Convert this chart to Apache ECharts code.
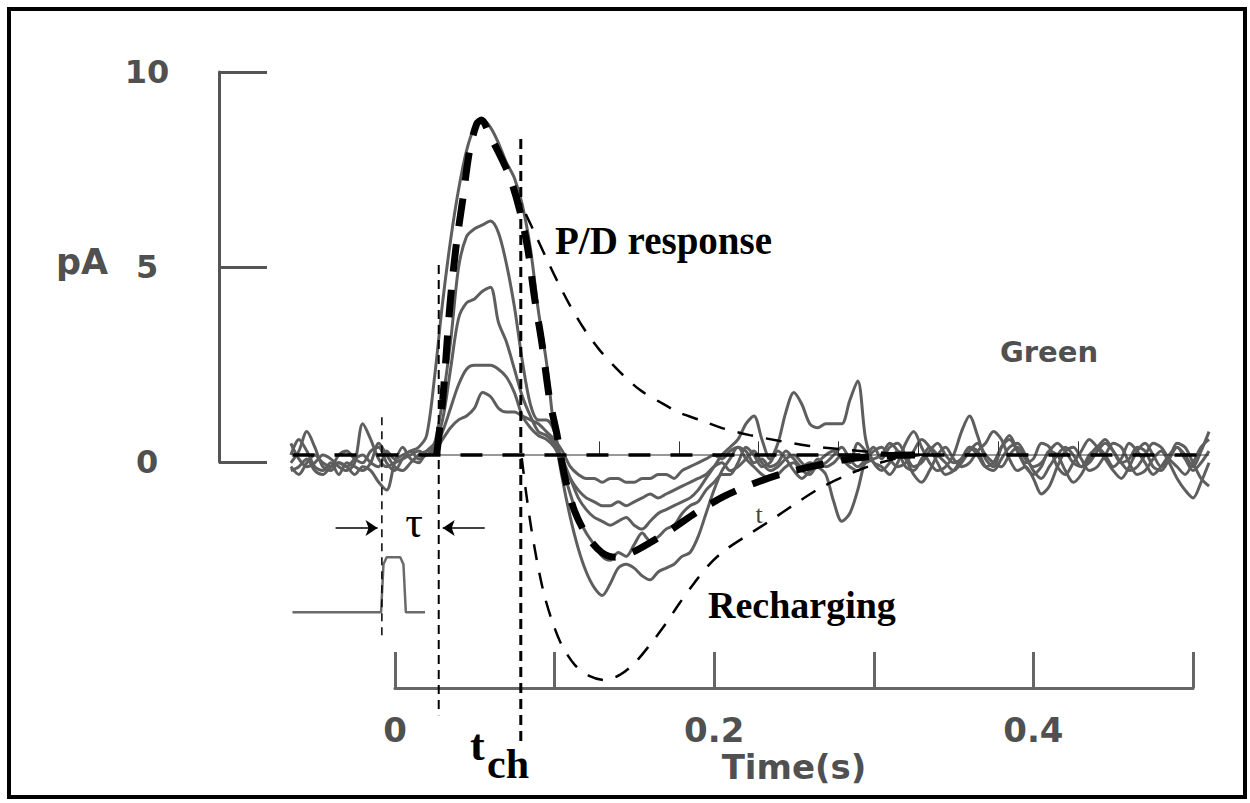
<!DOCTYPE html>
<html><head><meta charset="utf-8">
<script src="https://cdn.jsdelivr.net/npm/echarts@6/dist/echarts.min.js"></script>
<style>html,body{margin:0;padding:0;background:#fff}#c{width:1250px;height:803px}</style>
</head><body><div id="c"></div>
<script>
// ---------- DATA ----------
const timeS = [-0.065,-0.06,-0.055,-0.05,-0.045,-0.04,-0.035,-0.03,-0.025,-0.02,-0.015,-0.01,-0.005,0,0.005,0.01,0.015,0.02,0.025,0.03,0.035,0.04,0.045,0.05,0.055,0.06,0.065,0.07,0.075,0.08,0.085,0.09,0.095,0.1,0.105,0.11,0.115,0.12,0.125,0.13,0.135,0.14,0.145,0.15,0.155,0.16,0.165,0.17,0.175,0.18,0.185,0.19,0.195,0.2,0.205,0.21,0.215,0.22,0.225,0.23,0.235,0.24,0.245,0.25,0.255,0.26,0.265,0.27,0.275,0.28,0.285,0.29,0.295,0.3,0.305,0.31,0.315,0.32,0.325,0.33,0.335,0.34,0.345,0.35,0.355,0.36,0.365,0.37,0.375,0.38,0.385,0.39,0.395,0.4,0.405,0.41,0.415,0.42,0.425,0.43,0.435,0.44,0.445,0.45,0.455,0.46,0.465,0.47,0.475,0.48,0.485,0.49,0.495,0.5,0.505,0.51];

const traceA = [-0.2,0.1,0.6,0.2,-0.3,-0.4,-0.2,-0.3,-0.1,0.0,-0.2,-0.3,0.1,-0.1,0.0,0.1,0.2,0.5,2.0,
  3.9,5.5,6.8,7.8,8.4,8.6,8.4,8.0,7.5,7.1,6.4,5.3,3.7,2.4,0.6,
  -0.6,-1.6,-2.4,-3.0,-3.4,-3.6,-3.3,-2.9,-2.8,-2.9,-3.1,-3.2,-3.0,-2.9,-2.8,-2.6,-2.5,-2.1,-1.5,-0.9,-0.4,-0.1,
  0.2,0.1,-0.2,-0.1,-0.3,-0.2,0.1,-0.1,-0.3,-0.2,-0.3,-0.5,-1.2,-1.7,-1.5,-0.9,-0.1,0.2,
  -0.1,0.2,0.3,0.0,-0.3,-0.2,0.1,0.3,0.0,-0.2,-0.1,0.2,0.1,-0.3,-0.4,-0.1,0.2,0.3,0.0,-0.4,-0.6,-0.3,0.0,0.2,0.0,-0.3,-0.2,0.1,0.3,0.1,-0.2,-0.4,-0.3,0.0,0.3,0.2,-0.1,-0.3,-0.5,-0.2,0.2,0.4];

const traceB = [0.3,-0.1,-0.3,-0.2,0.0,-0.1,-0.3,-0.4,-0.2,0.8,0.4,-0.1,-0.3,-0.2,-0.1,0.0,0.1,0.0,0.3,
  1.4,2.9,4.8,5.6,5.8,5.9,6.0,5.7,4.9,3.8,2.4,1.3,0.9,0.9,0.6,
  -0.3,-1.0,-1.6,-2.0,-2.3,-2.6,-2.7,-2.5,-2.6,-2.3,-2.0,-2.2,-2.1,-1.9,-1.8,-1.5,-1.3,-1.2,-0.9,-0.7,-0.5,-0.5,
  -0.2,0.2,0.0,-0.3,-0.2,0.1,-0.1,-0.4,-0.6,-0.4,-0.1,-0.3,-0.2,0.0,-0.2,0.3,0.1,-0.2,
  -0.3,-0.5,-0.2,0.3,0.6,0.2,-0.2,-0.4,-0.3,0.0,0.6,1.0,0.5,-0.1,-0.3,0.2,0.5,0.1,-0.3,-0.5,-0.3,0.1,0.0,-0.4,-0.7,-0.5,-0.1,0.2,0.0,-0.3,-0.1,0.3,0.1,-0.2,-0.5,-0.3,0.0,0.2,-0.1,-0.4,-0.2,0.1];

const traceC = [-0.4,-0.3,-0.1,-0.4,-0.5,-0.3,-0.2,-0.3,-0.5,-0.3,-0.4,-0.7,-0.9,-0.2,0.2,-0.1,-0.2,0.1,0.3,
  0.9,2.2,3.5,3.9,4.0,4.2,4.3,3.4,2.9,2.2,1.5,1.0,0.6,0.5,0.3,
  -0.1,-0.6,-1.1,-1.4,-1.6,-1.7,-1.8,-1.7,-1.6,-1.8,-1.9,-1.7,-1.5,-1.4,-1.3,-1.2,-1.1,-0.9,-0.6,-0.3,0.0,0.2,
  0.4,0.8,1.0,0.4,-0.1,0.3,1.1,1.6,1.3,0.8,0.7,0.8,0.8,0.8,1.4,1.9,0.4,-0.2,
  -0.4,-0.2,0.1,-0.1,-0.5,-0.7,-0.4,0.0,0.2,-0.1,-0.3,-0.2,0.1,0.3,0.6,0.4,-0.1,-0.4,-0.3,-0.6,-1.0,-0.8,-0.3,0.1,0.2,-0.1,-0.4,-0.3,0.0,0.3,0.2,-0.2,-0.5,-0.4,-0.1,0.1,-0.2,-0.6,-0.9,-1.1,-0.7,-0.2];

const traceD = [0.0,0.4,0.1,-0.3,-0.4,-0.2,-0.5,-0.2,-0.3,-0.4,-0.2,0.3,0.0,-0.3,-0.4,-0.2,0.0,0.1,0.2,
  0.6,1.2,1.8,2.2,2.3,2.3,2.3,2.2,2.0,1.6,1.0,0.7,0.5,0.4,0.2,
  -0.2,-0.6,-0.9,-1.1,-1.2,-1.3,-1.3,-1.2,-1.3,-1.2,-1.1,-1.0,-1.1,-1.0,-0.9,-0.8,-0.7,-0.6,-0.5,-0.3,-0.2,-0.4,
  -0.3,-0.1,0.1,-0.2,-0.4,-0.3,-0.1,0.0,-0.2,-0.4,-0.3,-0.2,0.0,0.2,-0.1,-0.3,-0.1,0.1,
  0.2,-0.1,-0.3,-0.2,0.1,0.4,0.2,-0.2,-0.5,-0.4,-0.1,0.2,0.0,-0.3,-0.2,0.2,0.4,0.1,-0.2,-0.1,0.3,0.2,-0.3,-0.5,-0.2,0.1,0.4,0.2,-0.1,-0.4,-0.6,-0.3,0.1,0.3,0.0,-0.3,-0.1,0.2,0.0,-0.3,0.1,0.6];

const traceE = [-0.3,-0.5,-0.2,0.0,-0.2,-0.3,0.0,0.1,-0.1,-0.2,0.1,0.2,-0.2,-0.4,-0.1,0.1,-0.1,0.0,0.1,
  0.4,0.7,0.9,1.0,1.2,1.6,1.5,1.2,1.1,1.1,1.0,0.9,0.8,0.6,0.4,
  0.1,-0.3,-0.5,-0.6,-0.6,-0.7,-0.6,-0.6,-0.7,-0.7,-0.6,-0.6,-0.5,-0.5,-0.6,-0.4,-0.3,-0.2,-0.1,0.0,-0.1,0.1,
  0.2,-0.1,-0.3,-0.5,-0.6,-0.5,-0.3,-0.2,-0.4,-0.5,-0.2,0.0,0.1,-0.1,-0.3,-0.4,-0.2,-0.1,
  0.0,0.3,0.1,-0.3,-0.4,-0.1,0.2,0.0,-0.2,-0.4,-0.2,0.1,0.3,0.0,-0.2,-0.3,0.0,0.2,-0.1,-0.3,-0.2,0.1,0.3,0.1,-0.2,-0.3,0.0,0.2,0.4,0.1,-0.2,-0.1,0.2,0.1,-0.3,-0.4,-0.1,0.3,0.2,-0.2,-0.6,-0.8];

// thick dashed model curve
const fitT = [0.0263,0.0301,0.0345,0.0382,0.0426,0.0470,0.0514,0.0545,0.0595,0.0658,0.0721,0.0783,0.0833,0.0877,0.0921,0.0971,0.1015,0.1065,0.1128,0.1209,0.1297,0.1385,0.1485,0.1598,0.1736,0.1898,0.2068,0.2237,0.2425,0.2632,0.2851,0.3070,0.3289];
const fitV = [0,1.41,3.79,5.26,6.54,7.82,8.49,8.59,8.2,7.7,7.13,6.28,5.3,4.0,2.9,1.41,0.56,-0.55,-1.45,-2.1,-2.5,-2.62,-2.5,-2.25,-1.9,-1.45,-1.05,-0.75,-0.48,-0.28,-0.1,-0.02,0];
// P/D response
const pdT = [0.0821,0.0877,0.0940,0.1015,0.1096,0.1190,0.1284,0.1410,0.1535,0.1660,0.1786,0.1911,0.2068,0.2224,0.2412,0.2600,0.2788,0.2976,0.3164,0.3352];
const pdV = [6.18,5.69,5.13,4.49,3.85,3.21,2.69,2.13,1.67,1.36,1.08,0.90,0.67,0.51,0.36,0.23,0.15,0.08,0.03,0];
// Recharging
const rcT = [0.0796,0.0821,0.0852,0.0890,0.0934,0.0984,0.1046,0.1128,0.1222,0.1316,0.1410,0.1504,0.1598,0.1692,0.1786,0.1880,0.1974,0.2068,0.2193,0.2350,0.2506,0.2663,0.2820,0.2976,0.3133,0.3289];
const rcV = [-0.08,-0.90,-1.79,-2.69,-3.54,-4.23,-4.87,-5.38,-5.67,-5.77,-5.64,-5.33,-4.87,-4.36,-3.79,-3.26,-2.79,-2.44,-2.10,-1.69,-1.26,-0.85,-0.54,-0.28,-0.10,0];
// stimulus pulse
const stimT = [-0.064,-0.0085,-0.007,-0.005,0.0035,0.0055,0.007,0.019];
const stimV = [-4.03,-4.03,-2.8,-2.62,-2.62,-2.8,-4.03,-4.03];
// baseline extent and its small ticks
const baseT = [-0.064,0.51];
const baseSolidT = [0.027,0.51];
const baseTickT = [0.128,0.178,0.228,0.278,0.328,0.378,0.428];
// marker lines [time, top, bottom]
const onsetLine = [-0.008,0.97,-4.74];
const tauLine = [0.0276,4.87,-6.67];
const tchLine = [0.079,8.1,-7.4];
// tau arrows [fromT, toT, level]
const arrowL = [-0.037,-0.0107,-1.87];
const arrowR = [0.0564,0.0301,-1.87];
// axis ticks
const yTickVals = [0,5,10];
const xTickLabels = ['0','','0.2','','0.4',''];

// ---------- CHART ----------
const zip = (t, v) => t.map((x, i) => [x, v[i]]);
const GRAY = '#505050';
const chart = echarts.init(document.getElementById('c'), null, {renderer: 'svg'});

const traceSeries = [traceA, traceB, traceC, traceD, traceE].map(v => ({
  type: 'line', xAxisIndex: 0, yAxisIndex: 0, data: zip(timeS, v), showSymbol: false,
  smooth: 0.3, lineStyle: {color: '#5e5e5e', width: 3}, z: 2, silent: true
}));
const vline = (L, w, dash) => ({
  type: 'line', xAxisIndex: 0, yAxisIndex: 0, data: [[L[0], L[1]], [L[0], L[2]]], showSymbol: false,
  lineStyle: {color: '#000', width: w, type: dash}, z: 4, silent: true
});

const option = {
  animation: false,
  backgroundColor: '#fff',
  grid: [
    {left: 219, right: 25, top: 65, bottom: 55.5},
    {left: 219, width: 100, top: 72, height: 390},
    {left: 395, right: 57, top: 600, bottom: 115}
  ],
  xAxis: [
    {gridIndex: 0, type: 'value', min: -0.11, max: 0.52, show: false},
    {gridIndex: 1, type: 'value', show: false},
    {gridIndex: 2, type: 'value', min: 0, max: 0.5, interval: 0.1,
      axisLine: {show: true, lineStyle: {color: '#666', width: 3}},
      axisTick: {show: true, inside: true, length: 36, lineStyle: {color: '#666', width: 3}},
      splitLine: {show: false},
      axisLabel: {margin: 25, color: GRAY, fontSize: 34, fontWeight: 'bold', fontFamily: 'DejaVu Sans',
        formatter: (v, i) => xTickLabels[i] || ''},
      name: 'Time(s)', nameLocation: 'middle', nameGap: 62,
      nameTextStyle: {color: GRAY, fontSize: 34, fontWeight: 'bold', fontFamily: 'DejaVu Sans'}}
  ],
  yAxis: [
    {gridIndex: 0, type: 'value', min: -7.5, max: 10, show: false},
    {gridIndex: 1, type: 'value', min: 0, max: 10, interval: 5,
      axisLine: {show: true, lineStyle: {color: '#555', width: 3}},
      axisTick: {show: true, inside: true, length: 48, lineStyle: {color: '#555', width: 3}},
      splitLine: {show: false},
      axisLabel: {margin: 72, align: 'center', color: GRAY, fontSize: 32, fontWeight: 'bold', fontFamily: 'DejaVu Sans',
        formatter: v => yTickVals.includes(v) ? String(v) : ''}},
    {gridIndex: 2, type: 'value', show: false}
  ],
  series: [
    ...traceSeries,
    {type: 'line', xAxisIndex: 0, yAxisIndex: 0, data: zip(stimT, stimV), showSymbol: false,
      lineStyle: {color: '#6a6a6a', width: 2.5}, z: 2, silent: true},
    {type: 'line', xAxisIndex: 0, yAxisIndex: 0, data: baseSolidT.map(t => [t, 0]), showSymbol: false,
      lineStyle: {color: '#333', width: 1}, z: 3, silent: true,
      markLine: {silent: true, symbol: 'none', label: {show: false}, lineStyle: {color: '#333', width: 1, type: 'solid'},
        data: baseTickT.map(t => [{coord: [t, 0]}, {coord: [t, 0.35]}])}},
    {type: 'line', xAxisIndex: 0, yAxisIndex: 0, data: baseT.map(t => [t, 0]), showSymbol: false,
      lineStyle: {color: '#000', width: 3.5, type: [22, 20]}, z: 5, silent: true},
    {type: 'line', xAxisIndex: 0, yAxisIndex: 0, data: zip(fitT, fitV), showSymbol: false, smooth: 0.3,
      lineStyle: {color: '#000', width: 7, type: [28, 18]}, z: 6, silent: true},
    {type: 'line', xAxisIndex: 0, yAxisIndex: 0, data: zip(pdT, pdV), showSymbol: false, smooth: 0.3,
      lineStyle: {color: '#000', width: 2.5, type: [16, 13]}, z: 6, silent: true},
    {type: 'line', xAxisIndex: 0, yAxisIndex: 0, data: zip(rcT, rcV), showSymbol: false, smooth: 0.3,
      lineStyle: {color: '#000', width: 2.5, type: [16, 13]}, z: 6, silent: true},
    Object.assign(vline(onsetLine, 1.5, [8, 6]), {
      markLine: {silent: true, symbol: ['none', 'arrow'], symbolSize: 12, label: {show: false},
        lineStyle: {color: '#000', width: 1.5, type: 'solid'},
        data: [[{coord: [arrowL[0], arrowL[2]]}, {coord: [arrowL[1], arrowL[2]]}],
               [{coord: [arrowR[0], arrowR[2]]}, {coord: [arrowR[1], arrowR[2]]}]]}
    }),
    vline(tauLine, 2, [9, 6]),
    vline(tchLine, 3, [10, 6])
  ],
  graphic: [
    {type: 'rect', silent: true, shape: {x: 9, y: 9, width: 1236, height: 788},
      style: {fill: 'none', stroke: '#000', lineWidth: 4}},
    {type: 'text', silent: true, x: 82, y: 262, style: {text: 'pA', align: 'center', verticalAlign: 'middle',
      font: 'bold 35px "DejaVu Sans"', fill: GRAY}},
    {type: 'text', silent: true, x: 555, y: 240, style: {text: 'P/D response', align: 'left', verticalAlign: 'middle',
      font: 'bold 39px "Liberation Serif"', fill: '#000'}},
    {type: 'text', silent: true, x: 1000, y: 352, style: {text: 'Green', align: 'left', verticalAlign: 'middle',
      font: 'bold 29px "DejaVu Sans"', fill: GRAY}},
    {type: 'text', silent: true, x: 708, y: 605, style: {text: 'Recharging', align: 'left', verticalAlign: 'middle',
      font: 'bold 38px "Liberation Serif"', fill: '#000'}},
    {type: 'text', silent: true, x: 414, y: 522, style: {text: 'τ', align: 'center', verticalAlign: 'middle',
      font: '44px "Liberation Serif"', fill: '#000'}},
    {type: 'text', silent: true, x: 759, y: 514, style: {text: 't', align: 'center', verticalAlign: 'middle',
      font: '26px "Liberation Serif"', fill: '#444'}},
    {type: 'text', silent: true, x: 470, y: 745, style: {text: 't', align: 'left', verticalAlign: 'middle',
      font: 'bold 44px "Liberation Serif"', fill: '#000'}},
    {type: 'text', silent: true, x: 487, y: 764, style: {text: 'ch', align: 'left', verticalAlign: 'middle',
      font: 'bold 42px "Liberation Serif"', fill: '#000'}}
  ]
};
chart.setOption(option);
</script>
</body></html>
